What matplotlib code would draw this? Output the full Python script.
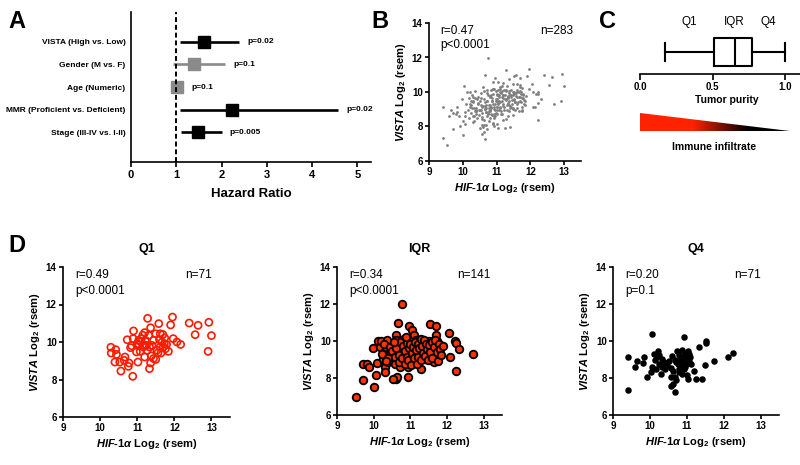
import matplotlib
matplotlib.use('Agg')
import matplotlib.pyplot as plt
import numpy as np
from matplotlib.colors import LinearSegmentedColormap
from matplotlib.patches import Polygon

plt.rcParams['font.family'] = 'Liberation Sans'
plt.rcParams['mathtext.fontset'] = 'custom'
plt.rcParams['mathtext.rm'] = 'Liberation Sans:bold'
plt.rcParams['mathtext.it'] = 'Liberation Sans:italic:bold'
plt.rcParams['mathtext.bf'] = 'Liberation Sans:bold'
plt.rcParams['axes.linewidth'] = 1.2

# ---- panel A: hazard ratios ----
factors = ['VISTA (High vs. Low)', 'Gender (M vs. F)', 'Age (Numeric)',
           'MMR (Proficient vs. Deficient)', 'Stage (III-IV vs. I-II)']
hr = [1.61, 1.39, 1.01, 2.24, 1.49]
ci_lo = [1.08, 0.92, 0.98, 1.08, 1.10]
ci_hi = [2.39, 2.08, 1.05, 4.58, 2.00]
p_values = [0.02, 0.1, 0.1, 0.02, 0.005]
p_labels = ['p=0.02', 'p=0.1', 'p=0.1', 'p=0.02', 'p=0.005']

# ---- panel C: tumor purity box ----
purity_min = 0.17
purity_q1 = 0.51
purity_med = 0.65
purity_q3 = 0.77
purity_max = 1.0
quart_names = ['Q1', 'IQR', 'Q4']

# ---- panel D: HIF-1a vs VISTA by purity group ----
q1_x = [10.29, 10.30, 10.42, 10.44, 10.40, 10.53, 10.67, 10.65, 10.56, 10.76,
        10.78, 10.73, 10.82, 10.88, 10.90, 10.89, 11.00, 11.04, 11.02, 11.08,
        11.11, 11.15, 11.20, 11.18, 11.22, 11.27, 11.20, 11.28, 11.31, 11.33,
        11.36, 11.38, 11.36, 11.33, 11.44, 11.50, 11.44, 11.50, 11.53, 11.58,
        11.60, 11.62, 11.62, 11.67, 11.64, 11.69, 11.73, 11.70, 11.76, 11.79,
        11.74, 11.84, 11.90, 11.95, 11.97, 12.07, 12.17, 12.40, 12.56, 12.64,
        12.93, 13.00, 12.91, 11.10, 11.16, 10.98, 11.25, 11.40, 11.56, 10.85,
        11.05]
q1_y = [9.72, 9.41, 9.59, 9.34, 8.93, 8.93, 9.20, 9.02, 8.45, 8.70,
        8.88, 10.12, 9.70, 8.17, 10.59, 10.18, 9.91, 10.09, 8.93, 9.50,
        10.18, 10.36, 10.50, 9.82, 10.09, 9.56, 9.20, 11.26, 10.36, 9.73,
        10.76, 9.26, 8.88, 8.58, 9.12, 9.07, 10.09, 10.44, 9.56, 10.98,
        10.13, 10.44, 9.73, 10.00, 9.41, 10.40, 9.91, 9.73, 9.64, 9.87,
        10.22, 9.50, 10.91, 11.33, 10.18, 10.00, 9.87, 11.01, 10.39, 10.89,
        11.05, 10.34, 9.50, 10.00, 9.73, 9.47, 9.82, 9.82, 9.42, 9.80,
        9.85]

iqr_x = [9.52, 9.72, 9.72, 9.81, 9.88, 9.97, 10.02, 10.06, 10.08, 10.12,
         10.17, 10.21, 10.26, 10.30, 10.30, 10.35, 10.37, 10.39, 10.32, 10.44,
         10.48, 10.53, 10.55, 10.57, 10.60, 10.62, 10.60, 10.64, 10.66, 10.69,
         10.71, 10.66, 10.73, 10.75, 10.76, 10.80, 10.82, 10.84, 10.87, 10.89,
         10.91, 10.93, 10.93, 10.96, 10.98, 11.00, 11.02, 11.05, 11.07, 11.09,
         11.09, 11.13, 11.16, 11.18, 11.20, 11.23, 11.27, 11.29, 11.29, 11.32,
         11.36, 11.38, 11.41, 11.43, 11.47, 11.50, 11.52, 11.53, 11.56, 11.59,
         11.61, 11.62, 11.65, 11.68, 11.70, 11.70, 11.72, 11.74, 11.77, 11.80,
         12.06, 12.07, 12.22, 12.24, 12.24, 12.33, 12.70, 10.52,
         10.22, 10.28, 10.40, 10.45, 10.50, 10.58, 10.62, 10.68, 10.70, 10.72,
         10.78, 10.80, 10.85, 10.86, 10.90, 10.92, 10.95, 10.97, 11.00, 11.02,
         11.05, 11.08, 11.10, 11.12, 11.15, 11.17, 11.20, 11.22, 11.25, 11.28,
         11.30, 11.33, 11.35, 11.38, 11.40, 11.42, 11.45, 11.48, 11.50, 11.55,
         11.58, 11.60, 11.65, 11.68, 11.72, 11.75, 11.78, 11.82, 11.85, 11.88,
         10.35, 10.55, 10.88]
iqr_y = [6.95, 7.88, 8.78, 8.75, 8.60, 9.61, 7.53, 8.14, 8.82, 10.00,
         9.65, 10.00, 9.05, 8.60, 9.47, 9.68, 10.04, 8.87, 8.33, 9.32,
         8.96, 9.68, 9.23, 8.78, 10.31, 10.04, 7.97, 8.06, 9.41, 9.05,
         8.60, 10.98, 9.50, 9.83, 11.99, 9.23, 8.96, 10.13, 9.68, 9.32,
         8.75, 8.03, 8.60, 10.80, 10.04, 9.59, 9.14, 10.58, 9.83, 9.41,
         10.31, 8.87, 10.04, 9.68, 9.32, 8.96, 10.04, 9.59, 8.46, 9.23,
         9.95, 9.50, 9.05, 9.72, 9.32, 10.00, 9.59, 10.94, 8.96, 9.77,
         9.32, 10.00, 8.87, 9.50, 10.31, 10.80, 10.00, 9.14, 9.68, 9.32,
         10.44, 9.14, 10.00, 9.90, 8.39, 9.59, 9.29, 7.92,
         9.30, 9.85, 9.10, 9.70, 9.45, 9.15, 9.60, 9.25, 8.85, 9.95,
         9.10, 9.75, 8.75, 9.45, 9.90, 9.15, 8.95, 9.60, 9.85, 8.70,
         9.35, 9.70, 9.10, 9.95, 9.50, 8.75, 9.85, 9.15, 9.60, 10.10,
         8.95, 9.75, 9.35, 10.05, 9.20, 9.85, 9.55, 9.00, 9.80, 9.40,
         9.95, 9.10, 9.70, 10.05, 9.40, 8.90, 9.85, 9.55, 9.25, 9.75,
         8.90, 9.95, 10.20]

q4_x = [9.41, 9.41, 9.60, 9.64, 9.82, 9.84, 9.93, 10.02, 10.07, 10.05,
        10.11, 10.14, 10.17, 10.20, 10.23, 10.24, 10.29, 10.32, 10.33, 10.38,
        10.42, 10.47, 10.51, 10.56, 10.56, 10.58, 10.62, 10.64, 10.67, 10.67,
        10.69, 10.71, 10.73, 10.76, 10.78, 10.80, 10.82, 10.84, 10.87, 10.88,
        10.91, 10.93, 10.96, 10.97, 11.00, 11.01, 11.02, 11.04, 11.06, 11.09,
        11.12, 11.20, 11.24, 11.33, 11.40, 11.49, 11.53, 11.53, 11.74, 12.13,
        12.24, 10.87, 10.93, 10.70, 10.85, 10.95, 10.40, 10.60, 10.25, 11.05,
        10.78]
q4_y = [9.11, 7.35, 8.60, 8.93, 8.82, 9.11, 8.03, 8.33, 8.60, 10.37,
        9.32, 8.96, 8.51, 9.14, 9.47, 8.78, 8.24, 9.05, 8.60, 8.87,
        8.51, 8.69, 8.93, 8.55, 8.06, 7.56, 7.70, 8.39, 9.00, 7.26,
        8.06, 7.88, 9.47, 8.78, 9.23, 8.51, 8.87, 9.14, 8.69, 8.20,
        9.00, 10.19, 9.32, 8.78, 9.14, 8.15, 9.47, 7.92, 8.93, 9.14,
        8.75, 8.39, 7.92, 9.65, 7.97, 8.69, 9.90, 10.01, 8.93, 9.14,
        9.36, 9.50, 8.51, 8.85, 9.05, 8.60, 8.75, 9.20, 9.25, 9.30,
        8.30]

group_names = ['Q1', 'IQR', 'Q4']
group_r = ['r=0.49', 'r=0.34', 'r=0.20']
group_p = ['p<0.0001', 'p<0.0001', 'p=0.1']
all_r = 'r=0.47'
all_p = 'p<0.0001'

W, H = 800, 465
fig = plt.figure(figsize=(8, 4.65), dpi=100)


def px_axes(x0, y0, x1, y1):
    # pixel box (top-left origin) -> figure axes
    return fig.add_axes([x0 / W, 1 - y1 / H, (x1 - x0) / W, (y1 - y0) / H])


def bold_ticks(ax):
    for lab in ax.get_xticklabels() + ax.get_yticklabels():
        lab.set_fontweight('bold')


xlab = r'$\mathit{HIF}$-$\mathit{1\alpha}$ Log$_2$ (rsem)'
ylab = r'$\mathit{VISTA}$ Log$_2$ (rsem)'


def scatter_frame(ax, r_txt, p_txt, n):
    ax.set_xlim(9, 13.5)
    ax.set_ylim(6, 14)
    ax.set_xticks([9, 10, 11, 12, 13])
    ax.set_yticks([6, 8, 10, 12, 14])
    ax.spines['top'].set_visible(False)
    ax.spines['right'].set_visible(False)
    ax.tick_params(labelsize=7, width=1.2, length=3, pad=1.5)
    bold_ticks(ax)
    ax.set_xlabel(xlab, fontsize=8, fontweight='bold', labelpad=3)
    ax.set_ylabel(ylab, fontsize=8, fontweight='bold', labelpad=3)
    ax.text(9.33, 13.55, r_txt, fontsize=8.5, va='center')
    ax.text(9.33, 12.72, p_txt, fontsize=8.5, va='center')
    ax.text(12.28, 13.55, 'n=%d' % n, fontsize=8.5, va='center')


# ---------- A ----------
axA = px_axes(131, 12, 371, 162)
ys = np.arange(len(factors), 0, -1)
for y, f, h, lo, hi, pv, pl in zip(ys, factors, hr, ci_lo, ci_hi, p_values, p_labels):
    c = 'black' if pv < 0.05 else '#8a8a8a'
    axA.hlines(y, lo, hi, color=c, lw=1.9)
    axA.plot(h, y, 's', ms=8.5, color=c)
    axA.annotate(pl, (max(hi, h + 0.13), y), xytext=(6, 0), textcoords='offset points',
                 fontsize=6, fontweight='bold', va='center')
axA.axvline(1, color='black', lw=1.4, ls=(0, (2.5, 1.5)), zorder=5)
axA.set_xlim(0, 5.3)
axA.set_ylim(-0.3, 6.3)
axA.set_yticks(ys)
axA.set_yticklabels(factors, fontsize=6, fontweight='bold')
axA.set_xticks([0, 1, 2, 3, 4, 5])
axA.tick_params(axis='y', length=0, pad=4)
axA.tick_params(axis='x', labelsize=8, width=1.2, length=3.5, pad=2)
for lab in axA.get_xticklabels():
    lab.set_fontweight('bold')
axA.spines['top'].set_visible(False)
axA.spines['right'].set_visible(False)
axA.set_xlabel('Hazard Ratio', fontsize=9.5, fontweight='bold', labelpad=6)

# ---------- B ----------
axB = px_axes(429, 23, 581, 161)
all_x = q1_x + iqr_x + q4_x
all_y = q1_y + iqr_y + q4_y
axB.scatter(all_x, all_y, s=4, color='#7f7f7f', linewidths=0)
scatter_frame(axB, all_r, all_p, len(all_x))

# ---------- C ----------
axC = px_axes(640, 30, 800, 74)
axC.bxp([{'whislo': purity_min, 'q1': purity_q1, 'med': purity_med,
          'q3': purity_q3, 'whishi': purity_max, 'fliers': []}],
        positions=[0.5], widths=0.64, capwidths=0.43, orientation='horizontal',
        showfliers=False,
        boxprops=dict(color='black', lw=1.5),
        whiskerprops=dict(color='black', lw=1.5),
        capprops=dict(color='black', lw=1.5),
        medianprops=dict(color='black', lw=1.5))
axC.set_xlim(0, 1.1)
axC.set_ylim(0, 1)
axC.set_yticks([])
axC.set_xticks([0.0, 0.5, 1.0])
axC.set_xticklabels(['%.1f' % v for v in [0.0, 0.5, 1.0]], fontsize=7, fontweight='bold')
axC.tick_params(axis='x', width=1.2, length=4, pad=1.5)
for s in ['top', 'right', 'left']:
    axC.spines[s].set_visible(False)
label_pos = [(purity_min + purity_q1) / 2, purity_med, (purity_q3 + purity_max) / 2]
for xq, name in zip(label_pos, quart_names):
    axC.text(xq, 1.19, name, fontsize=8.5, ha='center', va='center')
fig.text(727 / W, 1 - 100 / H, 'Tumor purity', fontsize=7.5, fontweight='bold',
         ha='center', va='center')

axT = px_axes(640, 113, 800, 131)
axT.set_xlim(0, 1.1)
axT.set_ylim(0, 1)
axT.axis('off')
grad = LinearSegmentedColormap.from_list(
    'imm', [(0, '#ff2200'), (0.35, '#ff2200'), (0.72, '#000000'), (1, '#000000')])
im = axT.imshow(np.linspace(0, 1, 256).reshape(1, -1), extent=[0, 1.03, 0, 1],
                aspect='auto', cmap=grad)
tri = Polygon([[0, 0], [0, 1], [1.03, 0]], closed=True, transform=axT.transData)
im.set_clip_path(tri)
fig.text(714 / W, 1 - 147 / H, 'Immune infiltrate', fontsize=7.5, fontweight='bold',
         ha='center', va='center')

# ---------- D ----------
boxes = [(63, 267, 230, 417), (337, 267, 502, 415), (613, 267, 779, 415)]
groups = [(q1_x, q1_y), (iqr_x, iqr_y), (q4_x, q4_y)]
for i, (bx, (gx, gy)) in enumerate(zip(boxes, groups)):
    ax = px_axes(*bx)
    if i == 0:
        ax.scatter(gx, gy, s=26, facecolors='none', edgecolors='#ff1a00', linewidths=1.2)
    elif i == 1:
        ax.scatter(gx, gy, s=30, color='#ff3300', edgecolors='black', linewidths=1.3)
    else:
        ax.scatter(gx, gy, s=22, color='black', linewidths=0)
    scatter_frame(ax, group_r[i], group_p[i], len(gx))
    ax.set_title(group_names[i], fontsize=9, fontweight='bold', pad=11)

# panel letters
for letter, (lx, ly) in zip('ABCD', [(17, 22), (380, 22), (608, 22), (17, 245)]):
    fig.text(lx / W, 1 - ly / H, letter, fontsize=17, fontweight='bold',
             ha='center', va='center')

fig.savefig('out.png', dpi=100)
